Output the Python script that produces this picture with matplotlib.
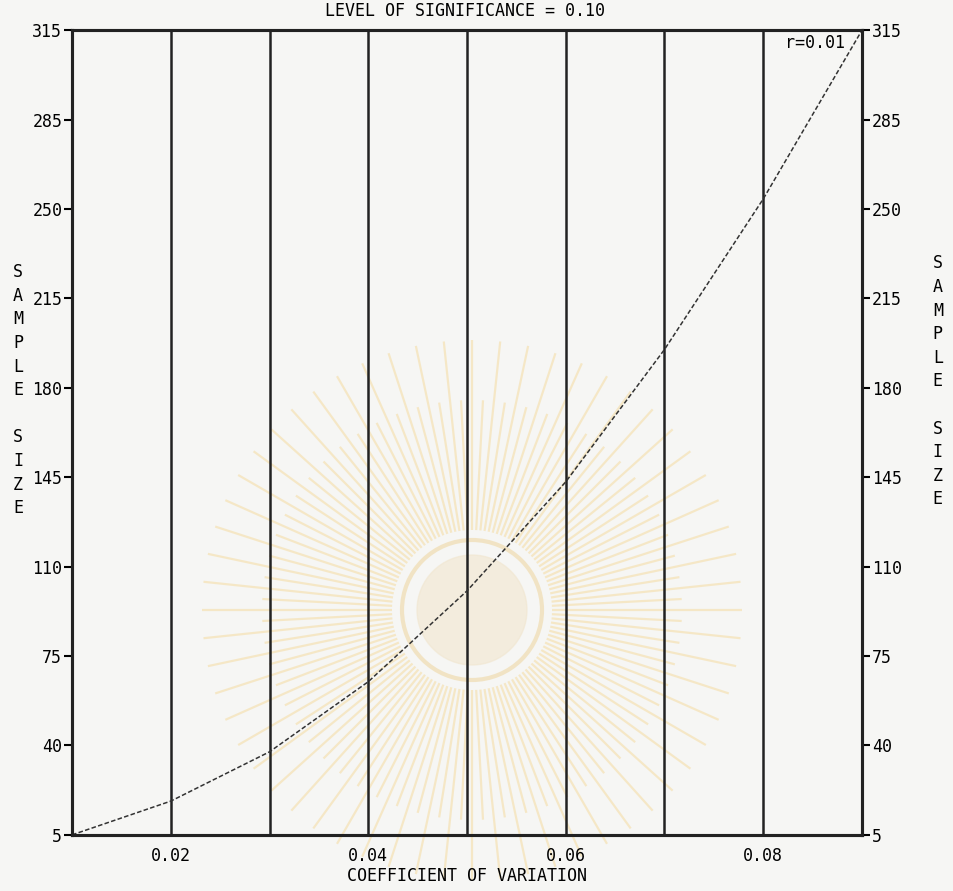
import numpy as np
import matplotlib.pyplot as plt

# coefficient of variation vs required sample size (r = 0.01)
cv = [0.01, 0.02, 0.03, 0.04, 0.05, 0.06, 0.07, 0.08, 0.09]
n = [5, 18, 37, 64, 99, 141, 192, 250, 315]

y_labels = ['5', '40', '75', '110', '145', '180', '215', '250', '285', '315']
x_ticks = [0.02, 0.04, 0.06, 0.08]
grid_x = [0.02, 0.03, 0.04, 0.05, 0.06, 0.07, 0.08]

plt.rcParams['font.family'] = ['DejaVu Sans Mono', 'DejaVu Sans']
paper = '#f6f6f4'
ink = '#222222'

fig = plt.figure(figsize=(9.54, 8.91), dpi=100, facecolor=paper)

# faint library stamp behind the plot
bg = fig.add_axes([0, 0, 1, 1], zorder=0)
bg.set_xlim(0, 954)
bg.set_ylim(891, 0)
bg.axis('off')
cx, cy = 472, 610
for k, ang in enumerate(np.radians(np.arange(0, 360, 3))):
    r1 = 80
    r2 = 270 if k % 2 == 0 else 210
    bg.plot([cx + r1 * np.cos(ang), cx + r2 * np.cos(ang)],
            [cy + r1 * np.sin(ang), cy + r2 * np.sin(ang)],
            color='#f4d690', lw=1.6, alpha=0.45, solid_capstyle='butt')
bg.add_patch(plt.Circle((cx, cy), 70, fill=False, ec='#efdcb0', lw=3, alpha=0.7))
bg.add_patch(plt.Circle((cx, cy), 55, color='#f1e6cf', alpha=0.6))

ax = fig.add_axes([0.0755, 0.063, 0.828, 0.903], zorder=1)
ax.set_facecolor('none')

for gx in grid_x:
    ax.axvline(gx, color=ink, lw=1.8)

ax.plot(cv, n, color='#333333', lw=1.1, linestyle=(0, (3, 1.5)))

ax.set_xlim(0.01, 0.09)
ax.set_ylim(5, 315)
yt = np.linspace(5, 315, len(y_labels))
ax.set_yticks(yt)
ax.set_yticklabels(y_labels, fontsize=12)
ax.set_xticks(x_ticks)
ax.set_xticklabels(['%.2f' % v for v in x_ticks], fontsize=12)
ax.tick_params(axis='x', length=0, pad=9)
ax.tick_params(axis='y', direction='out', length=6, width=1.5, pad=1)

ax2 = ax.twinx()
ax2.set_ylim(5, 315)
ax2.set_yticks(yt)
ax2.set_yticklabels(y_labels, fontsize=12)
ax2.tick_params(axis='y', direction='out', length=6, width=1.5, pad=1)

for a in (ax, ax2):
    for s in a.spines.values():
        s.set_linewidth(2.2)
        s.set_color(ink)

ax.text(0.0883, 313.5, 'r=0.01', ha='right', va='top', fontsize=12)
ax.set_xlabel('COEFFICIENT OF VARIATION', fontsize=12, labelpad=1)
fig.text(0.487, 0.988, 'LEVEL OF SIGNIFICANCE = 0.10', ha='center', va='center', fontsize=12)

side = 'S\nA\nM\nP\nL\nE\n\nS\nI\nZ\nE'
fig.text(0.019, 0.562, side, ha='center', va='center', fontsize=12, linespacing=1.4)
fig.text(0.983, 0.572, side, ha='center', va='center', fontsize=12, linespacing=1.4)

fig.savefig('out.png', dpi=100, facecolor=fig.get_facecolor())
